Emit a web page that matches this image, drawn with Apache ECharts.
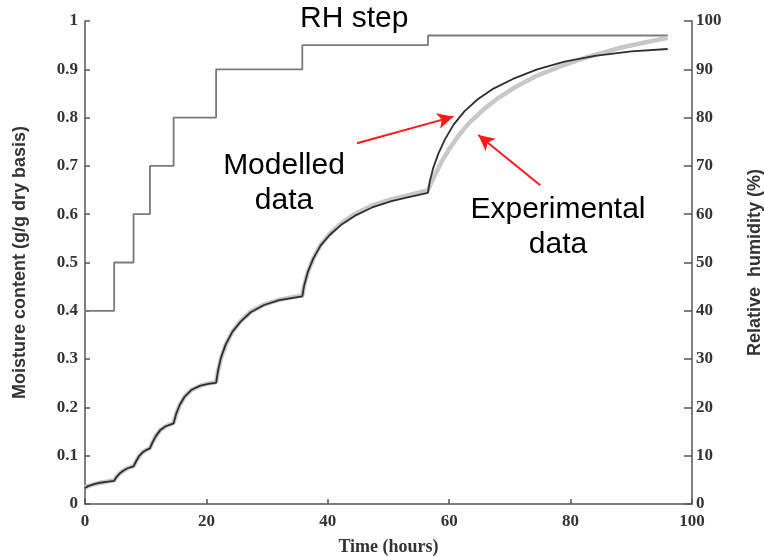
<!DOCTYPE html>
<html>
<head>
<meta charset="utf-8">
<script src="https://cdn.jsdelivr.net/npm/echarts@6/dist/echarts.min.js"></script>
<style>html,body{margin:0;padding:0;background:#fff}#c{width:764px;height:556px}</style>
</head>
<body>
<div id="c"></div>
<script>
// RH step (time h, RH %)
const rhTime = [0, 4.8, 8.0, 10.7, 14.6, 21.6, 35.8, 56.5, 96];
const rhValue = [40, 50, 60, 70, 80, 90, 95, 97, 97];

// Modelled moisture content
const modelTime = [0,0.5,1.5,2.5,3.5,4.8, 5.2,5.7,6.3,7.0,8.0, 8.4,8.9,9.5,10.1,10.7,
  11.1,11.7,12.4,13.3,14.6, 15.0,15.6,16.4,17.5,19.0,20.5,21.6,
  21.9,22.4,23.2,24.3,25.6,27.3,29.5,32.0,35.8,
  36.1,36.7,37.6,38.8,40.3,42.2,44.5,47.3,50.5,53.5,56.5,
  56.8,57.4,58.2,59.3,60.7,62.5,64.7,67.3,70.5,74.5,79,84,90,96];
const modelMoist = [0.033,0.037,0.041,0.044,0.046,0.048, 0.056,0.063,0.069,0.074,0.078, 0.088,0.099,0.107,0.112,0.115,
  0.127,0.141,0.153,0.161,0.167, 0.186,0.205,0.222,0.236,0.245,0.249,0.251,
  0.275,0.303,0.331,0.357,0.377,0.397,0.412,0.422,0.430,
  0.452,0.480,0.508,0.535,0.557,0.578,0.597,0.614,0.627,0.636,0.644,
  0.668,0.697,0.725,0.755,0.785,0.813,0.838,0.860,0.880,0.900,0.916,0.928,0.937,0.942];

// Experimental moisture content
const expTime = [0,0.5,1.5,2.5,3.5,4.8, 5.2,5.7,6.3,7.0,8.0, 8.4,8.9,9.5,10.1,10.7,
  11.1,11.7,12.4,13.3,14.6, 15.0,15.6,16.4,17.5,19.0,20.5,21.6,
  21.9,22.4,23.2,24.3,25.6,27.3,29.5,32.0,35.8,
  36.1,36.7,37.6,38.8,40.3,42.2,44.5,47.3,50.5,53.5,56.5,
  57.0,57.8,58.8,60.0,61.5,63.3,65.5,68.0,71.0,74.5,78.5,83,88,92,96];
const expMoist = [0.034,0.037,0.041,0.044,0.046,0.049, 0.056,0.063,0.069,0.074,0.079, 0.088,0.099,0.107,0.112,0.116,
  0.127,0.141,0.153,0.161,0.168, 0.186,0.205,0.222,0.236,0.245,0.250,0.252,
  0.274,0.302,0.330,0.357,0.378,0.398,0.413,0.423,0.432,
  0.452,0.480,0.508,0.536,0.559,0.581,0.601,0.618,0.631,0.640,0.650,
  0.664,0.685,0.710,0.735,0.762,0.789,0.815,0.840,0.864,0.887,0.907,0.926,0.944,0.955,0.965];

const xTicks = [0, 20, 40, 60, 80, 100];

const zip = (a, b) => a.map((v, i) => [v, b[i]]);

const chart = echarts.init(document.getElementById('c'), null, {renderer: 'canvas'});
const tickFont = {fontFamily: 'Liberation Serif', fontWeight: 'bold', fontSize: 17, color: '#333'};
const axisLine = {show: true, lineStyle: {color: '#555', width: 1.5}};

chart.setOption({
  animation: false,
  backgroundColor: '#fff',
  grid: {left: 85, right: 72, top: 21, bottom: 52, containLabel: false, outerBoundsMode: 'none'},
  xAxis: {
    type: 'value', min: 0, max: 100, interval: 20,
    name: 'Time (hours)', nameLocation: 'middle', nameGap: 34,
    nameTextStyle: {fontFamily: 'Liberation Serif', fontWeight: 'bold', fontSize: 18, color: '#333'},
    axisLine: axisLine,
    axisTick: {show: true, inside: true, length: 5, lineStyle: {color: '#555', width: 1.5}},
    axisLabel: Object.assign({margin: 9, formatter: v => xTicks.includes(v) ? String(v) : ''}, tickFont),
    splitLine: {show: false}
  },
  yAxis: [{
    type: 'value', min: 0, max: 1, interval: 0.1,
    name: 'Moisture content (g/g dry basis)', nameLocation: 'middle', nameGap: 56,
    nameTextStyle: {fontFamily: 'Liberation Sans', fontWeight: 'bold', fontSize: 18, color: '#333'},
    axisLine: axisLine,
    axisTick: {show: true, inside: true, length: 5, lineStyle: {color: '#555', width: 1.5}},
    axisLabel: Object.assign({margin: 7, formatter: v => String(+v.toFixed(1))}, tickFont),
    splitLine: {show: false}
  }, {
    type: 'value', min: 0, max: 100, interval: 10, position: 'right',
    name: 'Relative  humidity (%)', nameLocation: 'middle', nameGap: 54, nameRotate: 90,
    nameTextStyle: {fontFamily: 'Liberation Sans', fontWeight: 'bold', fontSize: 18, color: '#333'},
    axisLine: axisLine,
    axisTick: {show: true, inside: true, length: 8, lineStyle: {color: '#555', width: 1.5}},
    axisLabel: Object.assign({margin: 4}, tickFont),
    splitLine: {show: false}
  }],
  series: [{
    name: 'RH step', type: 'line', yAxisIndex: 1, step: 'end',
    data: zip(rhTime, rhValue), symbol: 'none',
    lineStyle: {color: '#7a7a7a', width: 1.8}
  }, {
    name: 'Experimental data', type: 'line', data: zip(expTime, expMoist), symbol: 'none',
    lineStyle: {color: '#c8c8c8', width: 4.5}
  }, {
    name: 'Modelled data', type: 'line', data: zip(modelTime, modelMoist), symbol: 'none',
    lineStyle: {color: '#2e2e2e', width: 1.8},
    markLine: {
      silent: true, symbol: ['none', 'arrow'], symbolSize: [12, 16],
      label: {show: false},
      lineStyle: {color: '#ff1a1a', width: 2, type: 'solid'},
      data: [
        [{coord: [44.8, 0.747]}, {coord: [60.7, 0.802]}],
        [{coord: [75.0, 0.660]}, {coord: [64.8, 0.764]}]
      ]
    }
  }],
  graphic: [
    {type: 'text', left: 300, top: 4, style: {text: 'RH step', font: '30px "Liberation Sans"', fill: '#000'}},
    {type: 'text', x: 284, y: 148, style: {text: 'Modelled\ndata', font: '30px "Liberation Sans"', fill: '#000', align: 'center', lineHeight: 35}},
    {type: 'text', x: 558, y: 192, style: {text: 'Experimental\ndata', font: '30px "Liberation Sans"', fill: '#000', align: 'center', lineHeight: 35}}
  ]
});
</script>
</body>
</html>
